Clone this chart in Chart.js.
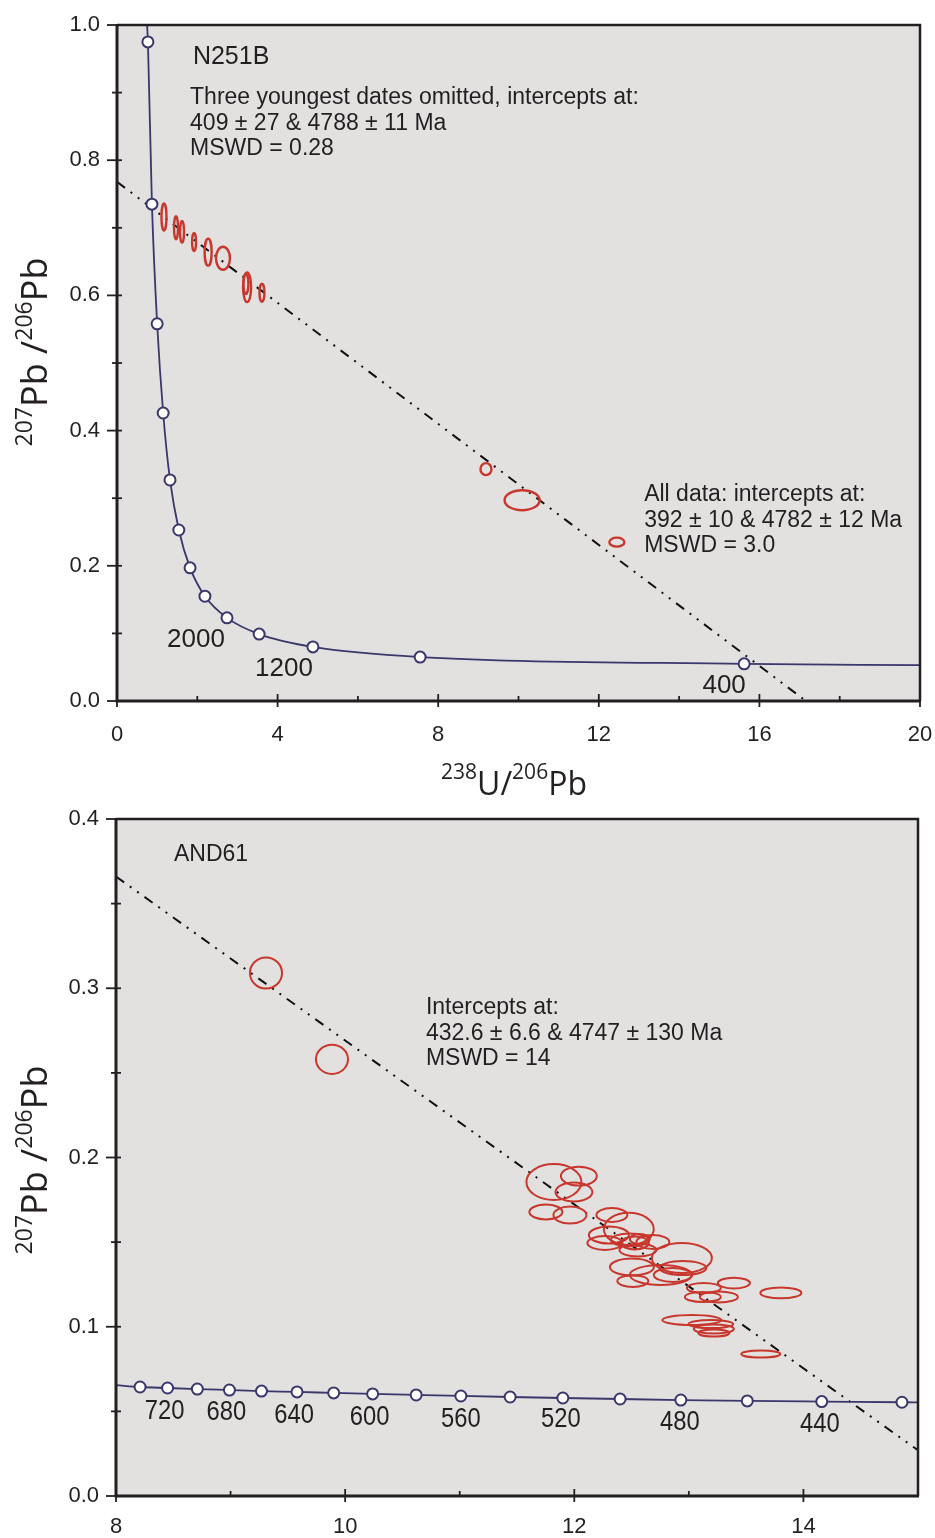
<!DOCTYPE html>
<html>
<head>
<meta charset="utf-8">
<script src="https://cdn.jsdelivr.net/npm/chart.js@4.4.1/dist/chart.umd.min.js"></script>
<style>
  body { margin: 0; background: #fff; }
  #wrap { position: relative; width: 935px; height: 1538px; }
  #c1 { position: absolute; left: 0; top: 0; }
  #c2 { position: absolute; left: 0; top: 800px; }
</style>
</head>
<body>
<div id="wrap">
  <canvas id="c1" width="935" height="800"></canvas>
  <canvas id="c2" width="935" height="738"></canvas>
</div>
<script>
// ---- N251B (top panel) ----
// concordia markers, every 400 Ma
var topConcAge = [5200, 4800, 4400, 4000, 3600, 3200, 2800, 2400, 2000, 1600, 1200, 800, 400];
var topConcX = [0.77, 0.87, 1.00, 1.15, 1.32, 1.54, 1.82, 2.19, 2.74, 3.54, 4.88, 7.55, 15.62];
var topConcY = [0.975, 0.735, 0.558, 0.426, 0.327, 0.253, 0.197, 0.155, 0.123, 0.099, 0.080, 0.065, 0.055];
// where the concordia curve leaves the plot
var topCurveEndX = [0.75, 20];
var topCurveEndY = [1.0, 0.053];
var topAgeLabels = [2000, 1200, 400];
// discordia
var topLineX = [0, 17.16];
var topLineY = [0.768, 0];
// analyses: centre and half-axes (2 sigma)
var topEllX = [1.17, 1.47, 1.62, 1.92, 2.27, 2.64, 3.24, 3.21, 3.61, 9.19, 10.09, 12.45];
var topEllY = [0.716, 0.700, 0.694, 0.679, 0.664, 0.655, 0.612, 0.617, 0.604, 0.343, 0.297, 0.235];
var topEllRX = [0.062, 0.050, 0.050, 0.050, 0.087, 0.174, 0.100, 0.062, 0.062, 0.137, 0.436, 0.187];
var topEllRY = [0.020, 0.017, 0.0163, 0.0133, 0.020, 0.017, 0.022, 0.0148, 0.0133, 0.0089, 0.0148, 0.0067];
var topXTicks = [0, 2, 4, 6, 8, 10, 12, 14, 16, 18, 20];
var topXLabels = [0, 4, 8, 12, 16, 20];
var topYTicks = [0, 0.1, 0.2, 0.3, 0.4, 0.5, 0.6, 0.7, 0.8, 0.9, 1.0];
var topYLabels = [0, 0.2, 0.4, 0.6, 0.8, 1.0];

// ---- AND61 (bottom panel) ----
var botConcAge = [740, 720, 700, 680, 660, 640, 620, 600, 580, 560, 540, 520, 500, 480, 460, 440, 420];
var botConcX = [8.21, 8.45, 8.71, 8.99, 9.27, 9.58, 9.90, 10.24, 10.62, 11.01, 11.44, 11.90, 12.40, 12.93, 13.51, 14.16, 14.86];
var botConcY = [0.0644, 0.0638, 0.0632, 0.0626, 0.0620, 0.0615, 0.0609, 0.0603, 0.0597, 0.0591, 0.0585, 0.0579, 0.0573, 0.0567, 0.0562, 0.0558, 0.0554];
var botCurveEndX = [8.0, 15.0];
var botCurveEndY = [0.0655, 0.0553];
var botAgeLabels = [720, 680, 640, 600, 560, 520, 480, 440];
var botLineX = [8, 15];
var botLineY = [0.366, 0.027];
var botEllX = [9.309, 9.885, 11.822, 12.040, 11.997, 11.752, 11.962, 12.328, 12.476, 12.302, 12.267, 12.485, 12.529, 12.572, 12.686, 12.555,
  12.939, 12.503, 12.756, 12.948, 12.860, 12.511, 13.131, 13.393, 13.122, 13.262, 13.803, 13.026, 13.192, 13.218, 13.218, 13.628];
var botEllY = [0.309, 0.258, 0.1855, 0.189, 0.1796, 0.1678, 0.166, 0.166, 0.1578, 0.1542, 0.1495, 0.1513, 0.1495, 0.1518, 0.1501, 0.1453,
  0.1406, 0.1353, 0.1306, 0.1347, 0.1306, 0.127, 0.1229, 0.1258, 0.1176, 0.1176, 0.120, 0.104, 0.1016, 0.0987, 0.0963, 0.0839];
var botEllRX = [0.140, 0.140, 0.240, 0.157, 0.161, 0.144, 0.144, 0.135, 0.218, 0.175, 0.153, 0.166, 0.122, 0.087, 0.144, 0.161,
  0.262, 0.192, 0.271, 0.205, 0.166, 0.135, 0.148, 0.140, 0.157, 0.166, 0.179, 0.257, 0.196, 0.175, 0.135, 0.170];
var botEllRY = [0.0092, 0.0086, 0.0106, 0.0056, 0.0056, 0.0044, 0.0050, 0.0041, 0.0095, 0.0050, 0.0041, 0.0038, 0.0038, 0.0030, 0.0041, 0.0038,
  0.0089, 0.0050, 0.0059, 0.0041, 0.0041, 0.0035, 0.0030, 0.0032, 0.0030, 0.0032, 0.0032, 0.0030, 0.0024, 0.0027, 0.0021, 0.0021];
var botXTicks = [8, 9, 10, 11, 12, 13, 14, 15];
var botXLabels = [8, 10, 12, 14];
var botYTicks = [0, 0.05, 0.1, 0.15, 0.2, 0.25, 0.3, 0.35, 0.4];
var botYLabels = [0, 0.1, 0.2, 0.3, 0.4];

var INK = '#231f20';
var CONC = '#3a376b';
var RED = '#c8372d';
var BG = '#e2e1e0';
var SANS = '"Liberation Sans", Arial, sans-serif';
var TITLE = '"Open Sans", "Liberation Sans", sans-serif';

function pts(xs, ys) {
  return xs.map(function (x, i) { return { x: x, y: ys[i] }; });
}

function hasLabel(list, v) {
  return list.some(function (l) { return Math.abs(l - v) < 1e-9; });
}

// rich text with superscripts, centred on (x, y) baseline
function drawRich(ctx, parts, x, y, rotate, size, supSize, rise) {
  ctx.save();
  ctx.translate(x, y);
  if (rotate) ctx.rotate(-Math.PI / 2);
  var w = 0;
  parts.forEach(function (p) {
    ctx.font = (p.sup ? supSize : size) + 'px ' + TITLE;
    p.w = ctx.measureText(p.t).width;
    w += p.w;
  });
  var cx = -w / 2;
  ctx.fillStyle = INK;
  ctx.textAlign = 'left';
  ctx.textBaseline = 'alphabetic';
  parts.forEach(function (p) {
    ctx.font = (p.sup ? supSize : size) + 'px ' + TITLE;
    ctx.fillText(p.t, cx, p.sup ? -rise : 0);
    cx += p.w;
  });
  ctx.restore();
}

function makeDecor(cfg) {
  return {
    id: 'decor',
    beforeDraw: function (chart) {
      var a = chart.chartArea, ctx = chart.ctx;
      ctx.save();
      ctx.fillStyle = BG;
      ctx.fillRect(a.left, a.top, a.right - a.left, a.bottom - a.top);
      ctx.restore();
    },
    afterDatasetsDraw: function (chart) {
      var a = chart.chartArea, ctx = chart.ctx;
      var xs = chart.scales.x, ys = chart.scales.y;

      // error ellipses
      ctx.save();
      ctx.beginPath();
      ctx.rect(a.left, a.top, a.right - a.left, a.bottom - a.top);
      ctx.clip();
      ctx.strokeStyle = RED;
      ctx.lineWidth = cfg.ellWidth;
      cfg.ellipses.forEach(function (e) {
        var cx = xs.getPixelForValue(e.x), cy = ys.getPixelForValue(e.y);
        var rx = Math.abs(xs.getPixelForValue(e.x + e.rx) - cx);
        var ry = Math.abs(ys.getPixelForValue(e.y + e.ry) - cy);
        ctx.beginPath();
        ctx.ellipse(cx, cy, rx, ry, 0, 0, Math.PI * 2);
        ctx.stroke();
      });
      ctx.restore();

      // frame
      ctx.save();
      ctx.strokeStyle = INK;
      ctx.lineWidth = 2.5;
      ctx.beginPath();
      ctx.moveTo(a.left, a.top);
      ctx.lineTo(a.right, a.top);
      ctx.lineTo(a.right, a.bottom);
      ctx.stroke();
      ctx.lineWidth = 3;
      ctx.beginPath();
      ctx.moveTo(a.left, a.top - 1);
      ctx.lineTo(a.left, a.bottom);
      ctx.lineTo(a.right + 1, a.bottom);
      ctx.stroke();

      // tick marks
      ctx.lineWidth = 1.8;
      xs.ticks.forEach(function (t) {
        var px = xs.getPixelForValue(t.value);
        var major = t.label !== '';
        ctx.beginPath();
        ctx.moveTo(px, a.bottom - (major ? 7 : 5));
        ctx.lineTo(px, a.bottom + (major ? 6 : 0));
        ctx.stroke();
      });
      ys.ticks.forEach(function (t) {
        var py = ys.getPixelForValue(t.value);
        var major = t.label !== '';
        ctx.beginPath();
        ctx.moveTo(a.left - (major ? 10 : 5), py);
        ctx.lineTo(a.left + 5, py);
        ctx.stroke();
      });
      ctx.restore();

      // text blocks
      ctx.save();
      ctx.fillStyle = INK;
      ctx.textAlign = 'left';
      ctx.textBaseline = 'middle';
      cfg.texts.forEach(function (b) {
        ctx.font = b.size + 'px ' + SANS;
        var px = xs.getPixelForValue(b.x), py = ys.getPixelForValue(b.y);
        b.lines.forEach(function (line, i) {
          ctx.fillText(line, px, py + i * b.step);
        });
      });

      // concordia age labels
      ctx.textAlign = 'center';
      ctx.font = cfg.ageFont + 'px ' + SANS;
      cfg.ageLabels.forEach(function (age, i) {
        var k = cfg.concAge.indexOf(age);
        var px = xs.getPixelForValue(cfg.concX[k]) + cfg.ageOffset[i][0];
        var py = ys.getPixelForValue(cfg.concY[k]) + cfg.ageOffset[i][1];
        ctx.save();
        ctx.translate(px, py);
        ctx.scale(cfg.ageScaleX, 1);
        ctx.fillText(String(age), 0, 0);
        ctx.restore();
      });
      ctx.restore();

      // axis titles
      var pb = [{ t: '207', sup: true }, { t: 'Pb /' }, { t: '206', sup: true }, { t: 'Pb' }];
      drawRich(ctx, pb, 47, cfg.yTitleY, true, 36, 23, 15);
      if (cfg.xTitle) {
        var ub = [{ t: '238', sup: true }, { t: 'U/' }, { t: '206', sup: true }, { t: 'Pb' }];
        drawRich(ctx, ub, 514, 795, false, 32, 21, 16);
      }
    }
  };
}

function noEdgePadding(s) {
  s.paddingLeft = 0;
  s.paddingRight = 0;
  s.paddingTop = 0;
  s.paddingBottom = 0;
}

function buildChart(id, cfg) {
  var markers = pts(cfg.concX, cfg.concY);
  var curve = [{ x: cfg.curveEndX[0], y: cfg.curveEndY[0] }].concat(markers, [{ x: cfg.curveEndX[1], y: cfg.curveEndY[1] }]);
  var tickFont = { family: SANS, size: 22 };
  return new Chart(document.getElementById(id), {
    type: 'scatter',
    data: {
      datasets: [
        {
          data: markers, showLine: false, pointRadius: 5.5, pointBackgroundColor: '#ffffff',
          pointBorderColor: CONC, pointBorderWidth: 2
        },
        {
          type: 'line', data: curve, borderColor: CONC, borderWidth: 1.8, pointRadius: 0,
          cubicInterpolationMode: 'monotone', fill: false
        },
        {
          type: 'line', data: pts(cfg.lineX, cfg.lineY), borderColor: '#111111', borderWidth: 2,
          borderDash: [10, 7, 2, 7, 2, 7], pointRadius: 0, fill: false
        }
      ]
    },
    options: {
      responsive: false,
      animation: false,
      events: [],
      layout: { padding: cfg.padding },
      plugins: { legend: { display: false }, tooltip: { enabled: false } },
      scales: {
        x: {
          type: 'linear', min: cfg.xTicks[0], max: cfg.xTicks[cfg.xTicks.length - 1],
          afterBuildTicks: function (s) { s.ticks = cfg.xTicks.map(function (v) { return { value: v }; }); },
          afterFit: function (s) { s.height = cfg.xHeight; noEdgePadding(s); },
          grid: { display: false, drawTicks: false },
          border: { display: false },
          ticks: {
            autoSkip: false, maxRotation: 0, padding: cfg.xPad, color: INK, font: tickFont,
            callback: function (v) { return hasLabel(cfg.xLabels, v) ? String(v) : ''; }
          }
        },
        y: {
          type: 'linear', min: cfg.yTicks[0], max: cfg.yTicks[cfg.yTicks.length - 1],
          afterBuildTicks: function (s) { s.ticks = cfg.yTicks.map(function (v) { return { value: v }; }); },
          afterFit: function (s) { s.width = cfg.yWidth; noEdgePadding(s); },
          grid: { display: false, drawTicks: false },
          border: { display: false },
          ticks: {
            autoSkip: false, padding: 17, color: INK, font: tickFont,
            callback: function (v) { return hasLabel(cfg.yLabels, v) ? v.toFixed(1) : ''; }
          }
        }
      }
    },
    plugins: [makeDecor(cfg)]
  });
}

function ellipses(xs, ys, rxs, rys) {
  return xs.map(function (x, i) { return { x: x, y: ys[i], rx: rxs[i], ry: rys[i] }; });
}

buildChart('c1', {
  concAge: topConcAge, concX: topConcX, concY: topConcY,
  curveEndX: topCurveEndX, curveEndY: topCurveEndY,
  lineX: topLineX, lineY: topLineY,
  ellipses: ellipses(topEllX, topEllY, topEllRX, topEllRY), ellWidth: 2.4,
  xTicks: topXTicks, xLabels: topXLabels, yTicks: topYTicks, yLabels: topYLabels,
  padding: { top: 25, right: 15, left: 0, bottom: 0 },
  xHeight: 99, yWidth: 117, xPad: 21,
  ageLabels: topAgeLabels, ageOffset: [[-31, 22], [-29, 22], [-20, 22]], ageFont: 26, ageScaleX: 1,
  texts: [
    { lines: ['N251B'], x: 1.89, y: 0.953, step: 0, size: 25 },
    { lines: ['Three youngest dates omitted, intercepts at:', '409 \u00b1 27 & 4788 \u00b1 11 Ma', 'MSWD = 0.28'], x: 1.82, y: 0.892, step: 25.5, size: 23 },
    { lines: ['All data: intercepts at:', '392 \u00b1 10 & 4782 \u00b1 12 Ma', 'MSWD = 3.0'], x: 13.13, y: 0.305, step: 25.5, size: 23 }
  ],
  yTitleY: 352, xTitle: true
});

buildChart('c2', {
  concAge: botConcAge, concX: botConcX, concY: botConcY,
  curveEndX: botCurveEndX, curveEndY: botCurveEndY,
  lineX: botLineX, lineY: botLineY,
  ellipses: ellipses(botEllX, botEllY, botEllRX, botEllRY), ellWidth: 2,
  xTicks: botXTicks, xLabels: botXLabels, yTicks: botYTicks, yLabels: botYLabels,
  padding: { top: 19, right: 17, left: 0, bottom: 0 },
  xHeight: 42, yWidth: 116, xPad: 18,
  ageLabels: botAgeLabels,
  ageOffset: [[-3, 23], [-3, 22], [-3, 23], [-3, 23], [0, 23], [-2, 21], [-1, 22], [-2, 23]],
  ageFont: 28, ageScaleX: 0.85,
  texts: [
    { lines: ['AND61'], x: 8.506, y: 0.379, step: 0, size: 23 },
    { lines: ['Intercepts at:', '432.6 \u00b1 6.6 & 4747 \u00b1 130 Ma', 'MSWD = 14'], x: 10.705, y: 0.2883, step: 25.5, size: 23 }
  ],
  yTitleY: 360, xTitle: false
});
</script>
</body>
</html>
